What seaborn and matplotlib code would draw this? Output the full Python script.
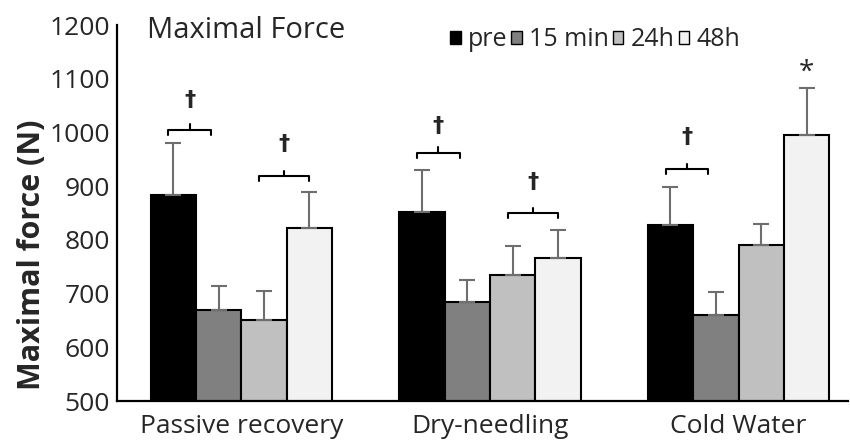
import numpy as np
import pandas as pd
import matplotlib
matplotlib.use('Agg')
import matplotlib.pyplot as plt
from matplotlib.patches import Patch
import seaborn as sns

# values (N)
conditions = ['Passive recovery', 'Dry-needling', 'Cold Water']
times = ['pre', '15 min', '24h', '48h']
passive_mean = [883, 670, 651, 823]
dry_mean = [851, 685, 735, 767]
cold_mean = [827, 661, 790, 995]
passive_err = [97, 45, 53, 67]
dry_err = [79, 41, 53, 51]
cold_err = [71, 41, 39, 88]

# significance brackets: (condition index, first bar, second bar, height, marker)
brackets = [
    (0, 0, 1, 1005, '\u2020'),
    (0, 2, 3, 919, '\u2020'),
    (1, 0, 1, 962, '\u2020'),
    (1, 2, 3, 850, '\u2020'),
    (2, 0, 1, 932, '\u2020'),
]
marker_y = [1060, 978, 1012, 907, 992]

colors = ['#000000', '#808080', '#c0c0c0', '#f2f2f2']

means = [passive_mean, dry_mean, cold_mean]
errs = [passive_err, dry_err, cold_err]
rows = []
for c, m, e in zip(conditions, means, errs):
    for t, v, s in zip(times, m, e):
        rows.append({'condition': c, 'time': t, 'force': v, 'sd': s})
df = pd.DataFrame(rows)

sns.set_style('white')
plt.rcParams['font.family'] = ['Open Sans', 'DejaVu Sans']

fig = plt.figure(figsize=(8.5, 4.41), dpi=100)
ax = fig.add_axes([0.1376, 0.0907, 0.86, 0.8526])

group_w = 0.73
sns.barplot(data=df, x='condition', y='force', hue='time', order=conditions,
            hue_order=times, palette=colors, edgecolor='black', linewidth=1.5,
            width=group_w, errorbar=None, ax=ax)

bw = group_w / len(times)
def bar_x(ci, ti):
    return ci + (ti - (len(times) - 1) / 2) * bw

# upward error bars only
for ci, c in enumerate(conditions):
    sub = df[df['condition'] == c]
    xs = [bar_x(ci, ti) for ti in range(len(times))]
    ax.errorbar(xs, sub['force'], yerr=[np.zeros(len(sub)), sub['sd']],
                fmt='none', ecolor='#6e6e6e', elinewidth=1.5, capsize=6,
                capthick=1.5, zorder=1)

for (ci, a, b, h, mk), my in zip(brackets, marker_y):
    x1 = bar_x(ci, a) - 0.02
    x2 = bar_x(ci, b) - 0.03 if b == 1 else bar_x(ci, b)
    xm = (x1 + x2) / 2
    ax.plot([x1, x1, x2, x2], [h - 10, h, h, h - 10], color='black', lw=1.5)
    ax.plot([xm, xm], [h, h + 10], color='black', lw=1.5)
    ax.text(xm, my, mk, ha='center', va='center', fontsize=16,
            fontweight='bold', family=['DejaVu Sans'])

# asterisk above cold water 48h
ax.text(bar_x(2, 3), 1111, '*', ha='center', va='center', fontsize=20)

ax.set_xlim(-0.5, 2.44)
ax.set_ylim(500, 1200)
ax.set_yticks(range(500, 1201, 100))
ax.tick_params(axis='y', direction='in', length=5, width=1.5, labelsize=19, pad=5)
ax.tick_params(axis='x', length=0, labelsize=19, pad=9)
for lab in ax.get_xticklabels():
    lab.set_x(lab.get_position()[0])
ax.set_xlabel('')
ax.set_ylabel('Maximal force (N)', fontsize=22, fontweight='bold')
ax.yaxis.set_label_coords(-0.096, 0.388)
for s in ['top', 'right']:
    ax.spines[s].set_visible(False)
for s in ['left', 'bottom']:
    ax.spines[s].set_linewidth(1.6)
    ax.spines[s].set_color('black')

ax.get_legend().remove()
handles = [Patch(facecolor=col, edgecolor='black', linewidth=1) for col in colors]
fig.legend(handles, times, loc='center left', bbox_to_anchor=(450 / 850, 1 - 40 / 441),
           ncol=4, frameon=False, fontsize=18, handlelength=0.42, handleheight=0.42,
           handletextpad=0.3, columnspacing=0.15, borderpad=0, borderaxespad=0)

fig.text(147 / 850, 1 - 38 / 441, 'Maximal Force', fontsize=21, ha='left', va='baseline')

fig.savefig('out.png', dpi=100)
